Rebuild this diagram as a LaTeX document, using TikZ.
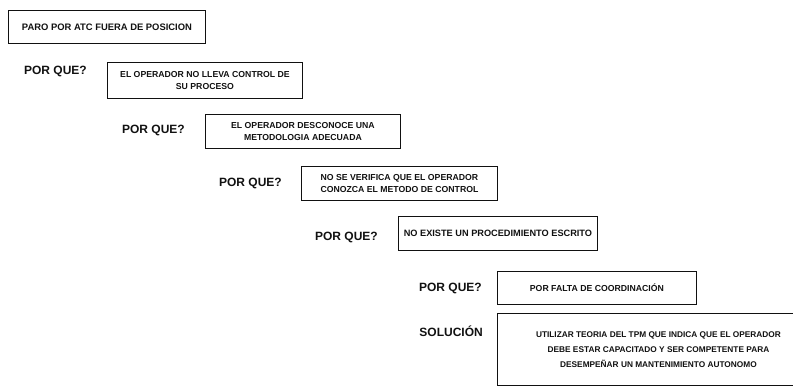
\documentclass[tikz,border=0pt]{standalone}
\usepackage{fontspec}
\setmainfont{Liberation Sans}
\usepackage{tikz}
\usetikzlibrary{positioning}
\definecolor{inkblack}{HTML}{111111}
\tikzstyle{whybox} = [rectangle, draw=inkblack, line width=0.9pt, anchor=north west, inner sep=1pt, align=center, text=inkblack, font=\fontsize{8.7}{11.5}\selectfont\bfseries]
\tikzstyle{whylabel} = [text=inkblack, inner sep=0pt, font=\fontsize{12}{14}\selectfont\bfseries]

\begin{document}
\begin{tikzpicture}[x=1pt, y=-1pt]
    \useasboundingbox (0,0) rectangle (793,388);

    % Problem
    \node[whybox, minimum width=197pt, minimum height=33pt, font=\fontsize{9.4}{11.5}\selectfont\bfseries] (prob) at (8,10) {PARO POR ATC FUERA DE POSICION};

    % Whys
    \node[whybox, minimum width=195pt, minimum height=36pt] (why1) at (107,62) {EL OPERADOR NO LLEVA CONTROL DE\\SU PROCESO};
    \node[whybox, minimum width=195pt, minimum height=34pt] (why2) at (205,114) {EL OPERADOR DESCONOCE UNA\\METODOLOGIA ADECUADA};
    \node[whybox, minimum width=196pt, minimum height=34pt] (why3) at (301,166) {NO SE VERIFICA QUE EL OPERADOR\\CONOZCA EL METODO DE CONTROL};
    \node[whybox, minimum width=199pt, minimum height=34pt, font=\fontsize{9.2}{11.5}\selectfont\bfseries] (why4) at (398,216) {NO EXISTE UN PROCEDIMIENTO ESCRITO};
    \node[whybox, minimum width=199pt, minimum height=33pt] (why5) at (497,271) {POR FALTA DE COORDINACIÓN};

    % Solution
    \node[whybox, minimum width=322pt, minimum height=72pt, font=\fontsize{8.3}{15}\selectfont\bfseries] (sol) at (497,313) {UTILIZAR TEORIA DEL TPM QUE INDICA QUE EL OPERADOR\\DEBE ESTAR CAPACITADO Y SER COMPETENTE PARA\\DESEMPEÑAR UN MANTENIMIENTO AUTONOMO};

    % Labels
    \node[whylabel, left=20pt of why1, yshift=9pt] (q1) {POR QUE?};
    \node[whylabel, left=20pt of why2, yshift=1pt] (q2) {POR QUE?};
    \node[whylabel, left=19pt of why3] (q3) {POR QUE?};
    \node[whylabel, left=20pt of why4, yshift=-4pt] (q4) {POR QUE?};
    \node[whylabel, left=15pt of why5, yshift=-1pt] (q5) {POR QUE?};
    \node[whylabel, left=14pt of sol.west, yshift=18pt] (qsol) {SOLUCIÓN};
  \end{tikzpicture}
\end{document}
